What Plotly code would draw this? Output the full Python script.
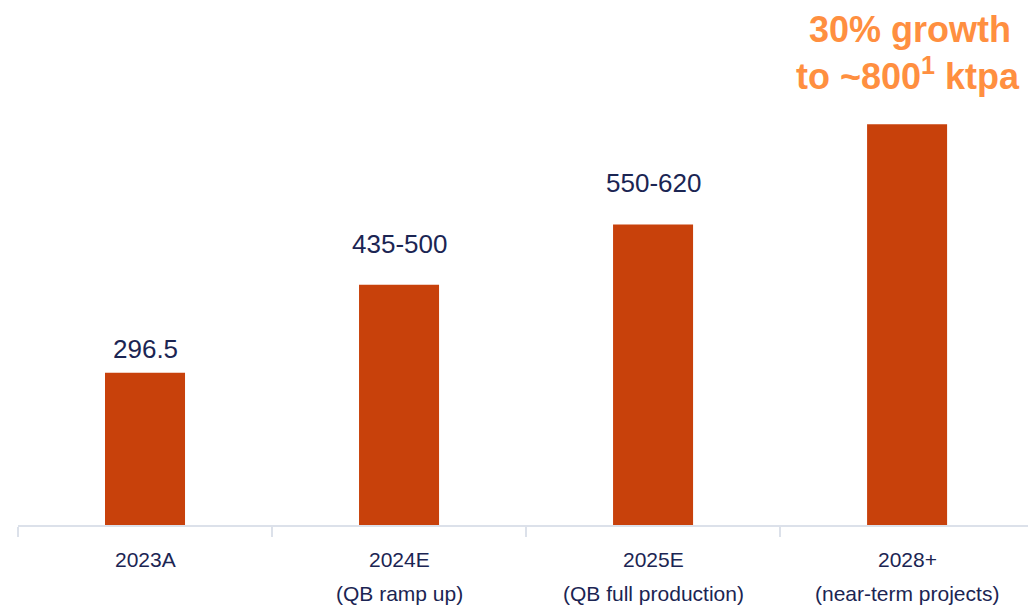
import plotly.graph_objects as go

# Production outlook, ktpa
categories = ["2023A", "2024E", "2025E", "2028+"]
subtitles = ["", "(QB ramp up)", "(QB full production)", "(near-term projects)"]
bar_values = [296.5, 467.5, 585, 780]
value_labels = ["296.5", "435-500", "550-620", ""]

BAR = "#C8410B"
NAVY = "#1B2553"
ORANGE = "#FF8F40"
AXIS = "#DCE1EA"
FONT = "Liberation Sans, Arial"

fig = go.Figure(
    go.Bar(
        x=categories,
        y=bar_values,
        marker=dict(color=BAR, line=dict(width=0)),
        width=0.315,
        hoverinfo="skip",
    )
)

annotations = []
for cat, sub, val, lab in zip(categories, subtitles, bar_values, value_labels):
    if lab:
        # label sits above the top of the stated range
        top = float(lab.split("-")[-1])
        annotations.append(dict(
            x=cat, y=top, xref="x", yref="y", text=lab, showarrow=False,
            yanchor="middle", yshift=24,
            font=dict(family=FONT, size=26, color=NAVY),
        ))
    annotations.append(dict(
        x=cat, y=0, xref="x", yref="paper", text=cat, showarrow=False,
        yanchor="middle", yshift=-34,
        font=dict(family=FONT, size=21, color=NAVY),
    ))
    if sub:
        annotations.append(dict(
            x=cat, y=0, xref="x", yref="paper", text=sub, showarrow=False,
            yanchor="middle", yshift=-68,
            font=dict(family=FONT, size=21, color=NAVY),
        ))

# headline over the last bar
annotations.append(dict(
    x=categories[-1], y=1, xref="x", yref="paper", text="<b>30% growth</b>",
    showarrow=False, yanchor="middle", yshift=-29, xshift=3,
    font=dict(family=FONT, size=36, color=ORANGE),
))
annotations.append(dict(
    x=categories[-1], y=1, xref="x", yref="paper",
    text="<b>to ~800<sup>1</sup> ktpa</b>",
    showarrow=False, yanchor="middle", yshift=-74, xshift=1,
    font=dict(family=FONT, size=36, color=ORANGE),
))

fig.update_layout(
    width=1028, height=606,
    margin=dict(l=18, r=0, t=0, b=81),
    paper_bgcolor="white", plot_bgcolor="white",
    showlegend=False,
    annotations=annotations,
    xaxis=dict(
        type="category", range=[-0.5, 3.476],
        showticklabels=False, showgrid=False, zeroline=False,
        showline=True, linecolor=AXIS, linewidth=2,
        ticks="outside", tickson="boundaries", ticklen=10,
        tickcolor=AXIS, tickwidth=2,
    ),
    yaxis=dict(
        range=[0, 1022], visible=False, showgrid=False, zeroline=False,
    ),
)

fig.write_html("out.html")
